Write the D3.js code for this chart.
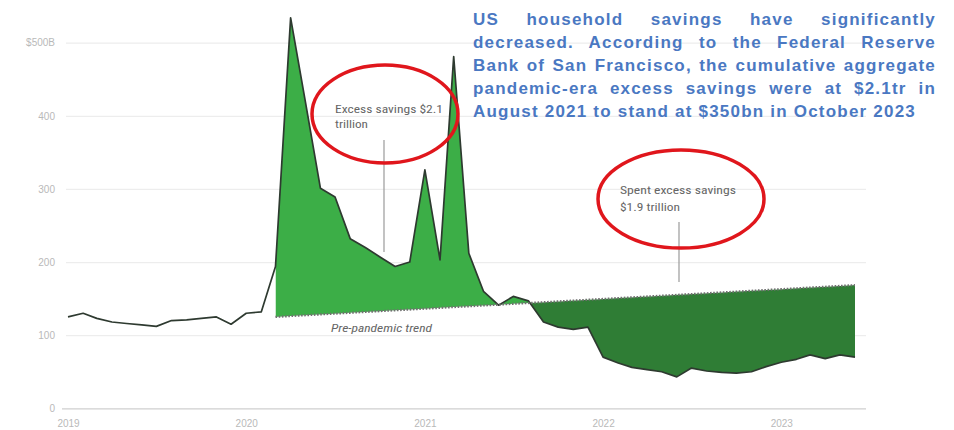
<!DOCTYPE html>
<html>
<head>
<meta charset="utf-8">
<script src="https://cdn.jsdelivr.net/npm/d3@7"></script>
<style>
  html, body { margin: 0; padding: 0; background: #fff; }
  svg { display: block; }
</style>
</head>
<body>
<svg id="chart" width="954" height="430"></svg>
<script>
// Monthly US personal saving, $bn (Jan 2019 – Jun 2023), one array per year
const savings2019 = [125, 130, 123, 118, 116, 114, 112, 120, 121, 123, 125, 115];
const savings2020 = [130, 132, 194, 534, 420, 301, 289, 232, 220, 207, 194, 200];
const savings2021 = [326, 203, 481, 212, 160, 141, 153, 147, 118, 111, 108, 111];
const savings2022 = [70, 62, 56, 53, 50, 43, 55, 51, 49, 48, 50, 57];
const savings2023 = [63, 67, 73, 68, 73, 70];

const firstMonth = "2019-01";
const lastMonth = "2023-06";

// Pre-pandemic trend: straight line between these two months
const trendMonths = ["2020-03", "2023-06"];
const trendValues = [125, 168.5];

const yTicks = [0, 100, 200, 300, 400, 500];
const xTickYears = ["2019", "2020", "2021", "2022", "2023"];

const headline = [
  "US household savings have significantly",
  "decreased. According to the Federal Reserve",
  "Bank of San Francisco, the cumulative aggregate",
  "pandemic-era excess savings were at $2.1tr in",
  "August 2021 to stand at $350bn in October 2023"
];
const excessLabel = ["Excess savings $2.1", "trillion"];
const spentLabel = ["Spent excess savings", "$1.9 trillion"];
const trendLabel = "Pre-pandemic trend";

// ---------------------------------------------------------------
const parseMonth = d3.timeParse("%Y-%m");
const parseYear = d3.timeParse("%Y");
const values = [].concat(savings2019, savings2020, savings2021, savings2022, savings2023);
const months = d3.timeMonth.range(parseMonth(firstMonth), d3.timeMonth.offset(parseMonth(lastMonth), 1));
const series = months.map((m, i) => ({ date: m, v: values[i] }));

const svg = d3.select("#chart");

const x = d3.scaleTime()
  .domain([parseMonth(firstMonth), parseMonth(lastMonth)])
  .range([68, 855]);
const y = d3.scaleLinear().domain([0, 500]).range([408.3, 42.7]);

const trendDates = trendMonths.map(parseMonth);
const trend = d3.scaleTime().domain(trendDates).range(trendValues);

const narrow = "'Liberation Sans Narrow', 'Roboto Condensed', 'Liberation Sans', Arial, sans-serif";

// Y axis with gridlines
const yAxis = d3.axisLeft(y)
  .tickValues(yTicks)
  .tickSize(-(866 - 66))
  .tickPadding(11)
  .tickFormat(d => d === 500 ? "$500B" : d);
const gy = svg.append("g").attr("transform", "translate(66,0)").call(yAxis);
gy.select(".domain").remove();
gy.selectAll(".tick line").attr("stroke", "#ededed").attr("stroke-width", 1.2);
gy.selectAll(".tick text")
  .attr("fill", "#b9b9b9")
  .style("font-family", "'Liberation Sans', Arial, sans-serif")
  .style("font-size", "10px");
gy.selectAll(".tick").filter(d => d === 0).select("line")
  .attr("stroke", "#cfcfcf").attr("x1", -4);

// X axis
const xAxis = d3.axisBottom(x)
  .tickValues(xTickYears.map(parseYear))
  .tickFormat(d3.timeFormat("%Y"))
  .tickSize(0)
  .tickPadding(12);
const gx = svg.append("g").attr("transform", `translate(0,${y(0)})`).call(xAxis);
gx.select(".domain").remove();
gx.selectAll(".tick text")
  .attr("fill", "#b9b9b9")
  .style("font-family", "'Liberation Sans', Arial, sans-serif")
  .style("font-size", "10px");

// Gap between actual savings and the trend, from the trend start onward
const gapData = series
  .filter(d => d.date >= trendDates[0])
  .map(d => ({ date: d.date, v: d.v, t: trend(d.date) }));

const tx0 = x(trendDates[0]), tx1 = x(trendDates[1]);
const ty0 = y(trendValues[0]), ty1 = y(trendValues[1]);
const defs = svg.append("defs");
defs.append("clipPath").attr("id", "above-trend")
  .append("path").attr("d", `M${tx0},${ty0}L${tx1},${ty1}L${tx1},0L${tx0},0Z`);
defs.append("clipPath").attr("id", "below-trend")
  .append("path").attr("d", `M${tx0},${ty0}L${tx1},${ty1}L${tx1},430L${tx0},430Z`);

const gapArea = d3.area()
  .x(d => x(d.date))
  .y0(d => y(d.t))
  .y1(d => y(d.v));

svg.append("path")
  .datum(gapData)
  .attr("d", gapArea)
  .attr("fill", "#3cae47")
  .attr("clip-path", "url(#above-trend)");

svg.append("path")
  .datum(gapData)
  .attr("d", gapArea)
  .attr("fill", "#2f7d35")
  .attr("clip-path", "url(#below-trend)");

// Actual savings line
svg.append("path")
  .datum(series)
  .attr("d", d3.line().x(d => x(d.date)).y(d => y(d.v)))
  .attr("fill", "none")
  .attr("stroke", "#2e3a30")
  .attr("stroke-width", 1.7)
  .attr("stroke-linejoin", "round");

// Trend line (dotted)
svg.append("path")
  .datum(trendDates.map((d, i) => ({ date: d, v: trendValues[i] })))
  .attr("d", d3.line().x(d => x(d.date)).y(d => y(d.v)))
  .attr("fill", "none")
  .attr("stroke", "#707070")
  .attr("stroke-width", 2.2)
  .attr("stroke-dasharray", "1.6,1.6");

svg.append("text")
  .attr("x", 331).attr("y", 332)
  .attr("fill", "#666")
  .style("font-family", narrow)
  .style("font-size", "10.5px")
  .style("font-style", "italic")
  .attr("textLength", 101)
  .attr("lengthAdjust", "spacingAndGlyphs")
  .text(trendLabel);

// Annotation: excess savings
svg.append("line")
  .attr("x1", 384).attr("x2", 384).attr("y1", 140).attr("y2", 252)
  .attr("stroke", "#9a9a9a").attr("stroke-width", 1.2);
svg.selectAll("text.excess")
  .data(excessLabel)
  .join("text")
  .attr("class", "excess")
  .attr("x", 335)
  .attr("y", (d, i) => 113 + i * 15)
  .attr("fill", "#666")
  .style("font-family", narrow)
  .style("font-size", "11px")
  .attr("textLength", (d, i) => i === 0 ? 108 : 33)
  .attr("lengthAdjust", "spacingAndGlyphs")
  .text(d => d);
svg.append("ellipse")
  .attr("cx", 385).attr("cy", 114).attr("rx", 73).attr("ry", 49)
  .attr("fill", "none").attr("stroke", "#e0161c").attr("stroke-width", 3.5);

// Annotation: spent excess savings
svg.append("line")
  .attr("x1", 679).attr("x2", 679).attr("y1", 222).attr("y2", 282)
  .attr("stroke", "#9a9a9a").attr("stroke-width", 1.2);
svg.selectAll("text.spent")
  .data(spentLabel)
  .join("text")
  .attr("class", "spent")
  .attr("x", 620)
  .attr("y", (d, i) => 194 + i * 17)
  .attr("fill", "#666")
  .style("font-family", narrow)
  .style("font-size", "11px")
  .attr("textLength", (d, i) => i === 0 ? 116 : 60)
  .attr("lengthAdjust", "spacingAndGlyphs")
  .text(d => d);
svg.append("ellipse")
  .attr("cx", 681).attr("cy", 199).attr("rx", 83).attr("ry", 49)
  .attr("fill", "none").attr("stroke", "#e0161c").attr("stroke-width", 3.5);

// Headline commentary: tracked-out bold face, justified between two edges,
// last line left-aligned
const hLeft = 473, hRight = 936, lastLineWidth = 443;
const hText = svg.selectAll("text.headline")
  .data(headline)
  .join("text")
  .attr("class", "headline")
  .attr("x", hLeft)
  .attr("y", (d, i) => 25 + i * 23.1)
  .attr("fill", "#4a78c2")
  .style("font-family", "'Liberation Sans', Arial, sans-serif")
  .style("font-weight", "bold")
  .style("font-size", "17px")
  .text(d => d);
const lastNode = hText.nodes()[headline.length - 1];
const lastText = headline[headline.length - 1];
const tracking = (lastLineWidth - lastNode.getComputedTextLength()) / lastText.length;
hText.style("letter-spacing", tracking + "px");
hText.each(function(d, i) {
  if (i === headline.length - 1) return;
  const gaps = d.split(" ").length - 1;
  const w = this.getComputedTextLength();
  const extra = (hRight - hLeft - w) / gaps;
  d3.select(this).style("word-spacing", extra + "px");
});
</script>
</body>
</html>
